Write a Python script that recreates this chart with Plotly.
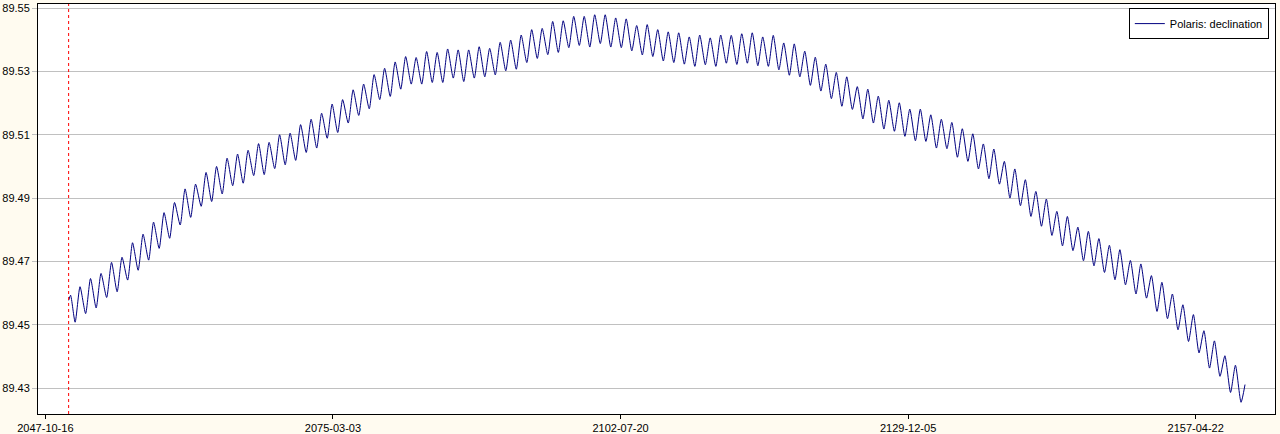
import plotly.graph_objects as go

# ---- data (degrees) ----
series_name = "Polaris: declination"

start_dates = ["2050-01-01", "2050-03-10"]
start_values = [89.4577, 89.4593]

trough_years = list(range(2050, 2162))
trough_values = [
    89.4508, 89.4535, 89.4553, 89.4586, 89.4604, 89.4641, 89.4672, 89.4704, 89.4741, 89.4773,
    89.4815, 89.4839, 89.4874, 89.4889, 89.4913, 89.4939, 89.4947, 89.4971, 89.4974, 89.4993,
    89.5005, 89.5019, 89.5044, 89.5058, 89.5089, 89.5107, 89.5137, 89.5161, 89.5182, 89.5211,
    89.5221, 89.5244, 89.5260, 89.5260, 89.5265, 89.5265, 89.5279, 89.5268, 89.5279, 89.5283,
    89.5289, 89.5302, 89.5307, 89.5328, 89.5341, 89.5353, 89.5360, 89.5375, 89.5382, 89.5377,
    89.5388, 89.5377, 89.5375, 89.5365, 89.5352, 89.5347, 89.5333, 89.5328, 89.5323, 89.5316,
    89.5321, 89.5316, 89.5326, 89.5322, 89.5326, 89.5318, 89.5316, 89.5305, 89.5288, 89.5283,
    89.5256, 89.5238, 89.5214, 89.5190, 89.5180, 89.5150, 89.5137, 89.5118, 89.5111, 89.5095,
    89.5081, 89.5079, 89.5058, 89.5056, 89.5029, 89.5016, 89.4992, 89.4961, 89.4944, 89.4900,
    89.4876, 89.4842, 89.4811, 89.4782, 89.4749, 89.4734, 89.4702, 89.4686, 89.4665, 89.4642,
    89.4626, 89.4597, 89.4584, 89.4542, 89.4519, 89.4484, 89.4447, 89.4411, 89.4363, 89.4337,
    89.4286, 89.4255,
]

peak_years = list(range(2051, 2162))
peak_values = [
    89.4620, 89.4646, 89.4662, 89.4697, 89.4713, 89.4759, 89.4786, 89.4824, 89.4854, 89.4886,
    89.4929, 89.4944, 89.4981, 89.5000, 89.5026, 89.5039, 89.5051, 89.5072, 89.5076, 89.5100,
    89.5105, 89.5132, 89.5149, 89.5168, 89.5197, 89.5211, 89.5242, 89.5260, 89.5290, 89.5310,
    89.5330, 89.5347, 89.5344, 89.5363, 89.5360, 89.5371, 89.5368, 89.5368, 89.5378, 89.5373,
    89.5392, 89.5399, 89.5415, 89.5432, 89.5436, 89.5458, 89.5460, 89.5474, 89.5474, 89.5479,
    89.5479, 89.5469, 89.5466, 89.5445, 89.5448, 89.5432, 89.5425, 89.5422, 89.5409, 89.5415,
    89.5406, 89.5415, 89.5414, 89.5419, 89.5422, 89.5409, 89.5414, 89.5390, 89.5387, 89.5364,
    89.5345, 89.5323, 89.5297, 89.5283, 89.5252, 89.5244, 89.5222, 89.5209, 89.5201, 89.5181,
    89.5181, 89.5163, 89.5149, 89.5139, 89.5119, 89.5103, 89.5071, 89.5055, 89.5016, 89.4992,
    89.4958, 89.4921, 89.4897, 89.4858, 89.4842, 89.4808, 89.4795, 89.4772, 89.4751, 89.4737,
    89.4703, 89.4692, 89.4655, 89.4634, 89.4597, 89.4563, 89.4532, 89.4481, 89.4449, 89.4402,
    89.4372,
]

end_dates = ["2162-01-01"]
end_values = [89.4311]

marker_date = "2050-01-01"  # red dashed line

x_tick_dates = ["2047-10-16", "2075-03-03", "2102-07-20", "2129-12-05", "2157-04-22"]
y_tick_values = [89.43, 89.45, 89.47, 89.49, 89.51, 89.53, 89.55]
y_tick_labels = ["89.43", "89.45", "89.47", "89.49", "89.51", "89.53", "89.55"]

# ---- assemble the series: troughs (mid-year) and peaks (early year) ----
trough_map = {y: v for y, v in zip(trough_years, trough_values)}
peak_map = {y: v for y, v in zip(peak_years, peak_values)}
xs = list(start_dates)
ys = list(start_values)
for yr in range(2050, 2162):
    if yr in peak_map:
        xs.append(f"{yr}-02-01")
        ys.append(peak_map[yr])
    xs.append(f"{yr}-08-15")
    ys.append(trough_map[yr])
xs += end_dates
ys += end_values

FONT = "Liberation Sans, Arial, sans-serif"

fig = go.Figure()
fig.add_trace(go.Scatter(
    x=xs, y=ys, mode="lines", name=series_name,
    line=dict(color="#000080", width=1, shape="spline", smoothing=0.6),
    showlegend=True,
))

fig.add_shape(
    type="line", xref="x", yref="paper",
    x0=marker_date, x1=marker_date, y0=0, y1=1,
    line=dict(color="#FF0000", width=1, dash="3px,3px"),
)

fig.update_layout(
    width=1280, height=434,
    margin=dict(l=38, r=5, t=4, b=20, autoexpand=False),
    paper_bgcolor="#FFFBF0",
    plot_bgcolor="#FFFFFF",
    font=dict(family=FONT, size=11, color="#000000"),
    showlegend=True,
    legend=dict(
        x=0.995, xanchor="right", y=0.99, yanchor="top",
        bgcolor="#FFFFFF", bordercolor="#000000", borderwidth=1,
        font=dict(family=FONT, size=11, color="#000000"),
        itemwidth=30, tracegroupgap=0,
    ),
    xaxis=dict(
        type="date",
        range=["2047-02-01", "2164-11-08"],
        tickvals=x_tick_dates,
        tickformat="%Y-%m-%d",
        ticks="outside", ticklen=4, tickcolor="#000000",
        showgrid=False, zeroline=False, automargin=False,
        showline=True, linecolor="#000000", linewidth=1, mirror=True,
        tickfont=dict(family=FONT, size=11, color="#000000"),
        ticklabelstandoff=0,
    ),
    yaxis=dict(
        range=[89.4218, 89.5513],
        tickvals=y_tick_values, ticktext=y_tick_labels,
        ticks="outside", ticklen=5, tickcolor="#C0C0C0",
        showgrid=True, gridcolor="#C0C0C0", gridwidth=1,
        zeroline=False, automargin=False,
        showline=True, linecolor="#000000", linewidth=1, mirror=True,
        tickfont=dict(family=FONT, size=11, color="#000000"),
    ),
)

fig.write_html(
    "out.html",
    config={"displayModeBar": False},
    post_script="document.body.style.margin='0';document.body.style.padding='0';"
                "document.body.style.overflow='hidden';"
                "document.documentElement.style.background='#FFFBF0';",
)
